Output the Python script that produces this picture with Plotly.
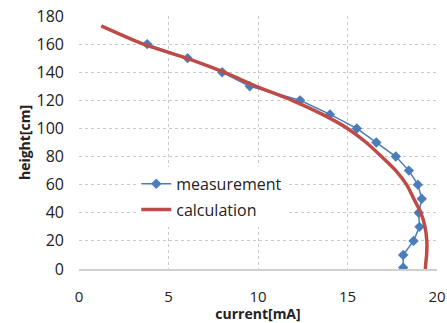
import plotly.graph_objects as go

meas_current = [3.81, 6.07, 8.0, 9.54, 12.35, 14.02, 15.52, 16.61, 17.70, 18.43, 18.93, 19.15, 18.98, 19.02, 18.69, 18.11, 18.11]
meas_height = [160, 150, 140, 130, 120, 110, 100, 90, 80, 70, 60, 50, 40, 30, 20, 10, 1]

calc_current = [1.24, 3.6, 6.0, 8.1, 9.9, 11.9, 13.6, 15.0, 16.05, 16.9, 17.7, 18.3, 18.7, 19.1, 19.33, 19.43, 19.42, 19.38, 19.35]
calc_height = [173, 160, 150, 140, 130, 120, 110, 100, 90, 80, 70, 60, 50, 40, 30, 20, 10, 5, 0]

x_ticks = [0, 5, 10, 15, 20]
y_ticks = [0, 20, 40, 60, 80, 100, 120, 140, 160, 180]

font_family = "Open Sans, Liberation Sans, sans-serif"

fig = go.Figure()
fig.add_trace(go.Scatter(
    x=meas_current, y=meas_height, name="measurement", mode="lines+markers",
    legendgroup="m",
    line=dict(color="#4a7ebb", width=1.5),
    marker=dict(symbol="diamond", size=8, color="#4a7ebb"),
))
fig.add_trace(go.Scatter(
    x=calc_current, y=calc_height, name="calculation", mode="lines",
    legendgroup="c",
    line=dict(color="#be4b48", width=3.5, shape="spline", smoothing=0.8),
))

fig.update_layout(
    width=447, height=323,
    margin=dict(l=79, r=10, t=16, b=54),
    paper_bgcolor="white", plot_bgcolor="white",
    font=dict(family=font_family, size=15, color="#222"),
    showlegend=True,
    legend=dict(x=0.16, y=0.404, xanchor="left", yanchor="top",
                bgcolor="white", font=dict(size=16, color="#222"),
                tracegroupgap=2, itemwidth=30),
    xaxis=dict(range=[0, 20], tickvals=x_ticks, showgrid=True,
               gridcolor="#c8c8c8", griddash="dot", gridwidth=1,
               zeroline=False, showline=True, linecolor="#d0d0d0", linewidth=1.5,
               ticks="", automargin=False, ticklabelstandoff=13,
               ticklabeloverflow="allow",
               tickfont=dict(size=15, color="#222"),
               title=dict(text="<b>current[mA]</b>", font=dict(size=14, color="#222"), standoff=3)),
    yaxis=dict(range=[0, 180], tickvals=y_ticks, showgrid=True,
               gridcolor="#c8c8c8", griddash="dot", gridwidth=1,
               zeroline=False, showline=False, ticks="",
               automargin=False, ticklabelstandoff=14,
               ticklabeloverflow="allow",
               tickfont=dict(size=16, color="#222"),
               title=dict(text="<b>height[cm]</b>", font=dict(size=14, color="#222"), standoff=2)),
)

fig.write_html("out.html", config={"displayModeBar": False},
               post_script="document.body.style.margin='0';document.body.style.overflow='hidden';")
